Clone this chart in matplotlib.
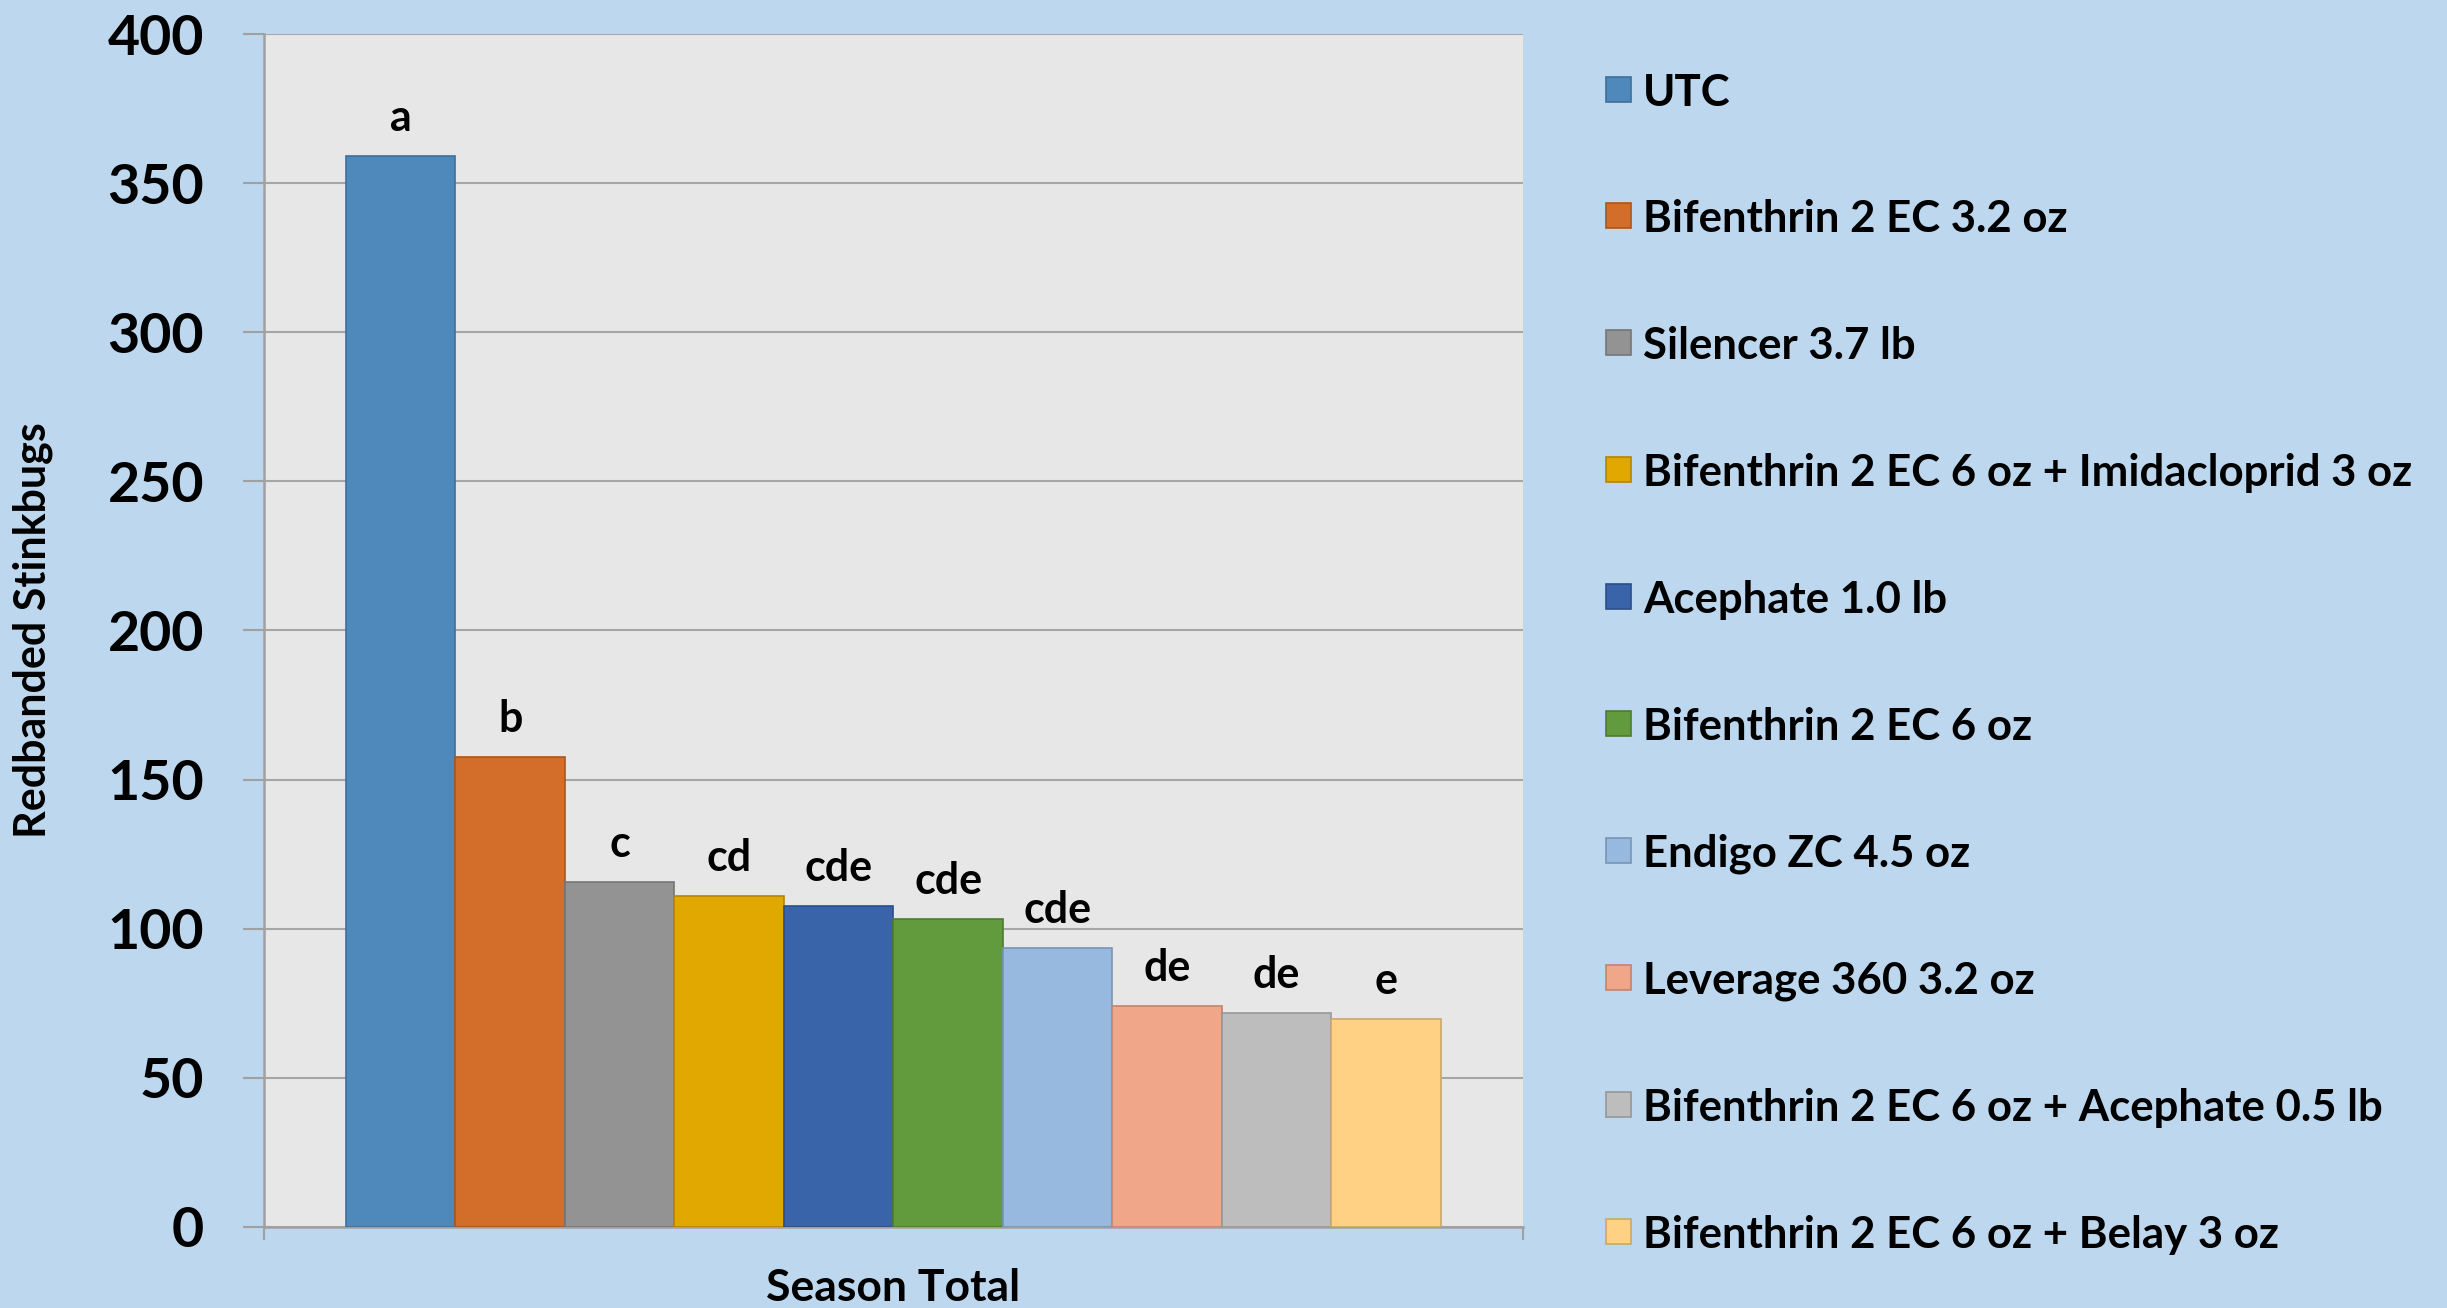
import matplotlib.pyplot as plt
from matplotlib.patches import Rectangle

# DONNEES
traitements = [
    "UTC",
    "Bifenthrin 2 EC 3.2 oz",
    "Silencer 3.7 lb",
    "Bifenthrin 2 EC 6 oz + Imidacloprid 3 oz",
    "Acephate 1.0 lb",
    "Bifenthrin 2 EC 6 oz",
    "Endigo ZC 4.5 oz",
    "Leverage 360 3.2 oz",
    "Bifenthrin 2 EC 6 oz + Acephate 0.5 lb",
    "Bifenthrin 2 EC 6 oz + Belay 3 oz",
]
stinkbugs = [359, 157.5, 115.5, 110.8, 107.5, 103.3, 93.5, 74, 71.7, 69.5]
lettres = ["a", "b", "c", "cd", "cde", "cde", "cde", "de", "de", "e"]
y_ticks = [0, 50, 100, 150, 200, 250, 300, 350, 400]

couleurs = ["#4F88BB", "#D26E2A", "#939393", "#E0A800", "#3A64AA",
            "#629A3E", "#98B9DF", "#F0A688", "#BDBDBD", "#FFD185"]
bords = ["#3F6F9A", "#A8561F", "#767676", "#B38600", "#2D4F88",
         "#4E7B31", "#7A94B2", "#C0856C", "#979797", "#CCA76A"]

plt.rcParams["font.family"] = ["Lato", "DejaVu Sans"]
plt.rcParams["font.weight"] = "bold"

fond = "#BDD7EE"
fig = plt.figure(figsize=(24.47, 13.08), dpi=100, facecolor=fond)
ax = fig.add_axes([0.1078, 0.0622, 0.5146, 0.9116])
ax.set_facecolor("#E7E7E7")

positions = list(range(len(stinkbugs)))
barres = ax.bar(positions, stinkbugs, width=1.0, color=couleurs,
                edgecolor=bords, linewidth=1.2, zorder=3)

for b, lettre in zip(barres, lettres):
    ax.annotate(lettre, (b.get_x() + b.get_width() / 2, b.get_height()),
                xytext=(0, 13), textcoords="offset points",
                ha="center", va="bottom", fontsize=31, fontweight="bold")

ax.set_ylim(0, 400)
ax.set_xlim(-1.25, 10.25)
ax.set_yticks(y_ticks)
ax.set_yticklabels([str(v) for v in y_ticks], fontsize=40, fontweight="bold")
ax.set_xticks([-1.25, 10.25])
ax.set_xticklabels(["", ""])
ax.tick_params(axis="y", length=15, width=1.5, color="#A0A0A0", pad=28)
ax.tick_params(axis="x", length=9, width=1.5, color="#A0A0A0")
ax.yaxis.grid(True, color="#A6A6A6", linewidth=1.5, zorder=0)
ax.set_axisbelow(True)

for s in ["top", "right"]:
    ax.spines[s].set_visible(False)
for s in ["left", "bottom"]:
    ax.spines[s].set_color("#A0A0A0")
    ax.spines[s].set_linewidth(1.8)

fig.text(0.0135, 0.5185, "Redbanded Stinkbugs", rotation=90, ha="center",
         va="center", fontsize=31, fontweight="bold")
fig.text(0.365, 0.0305, "Season Total", ha="center", va="top",
         fontsize=32, fontweight="bold")

# LEGENDE
W, H = 2447, 1308
y0 = 89
pas = 126.9
for i, (lab, c, e) in enumerate(zip(traitements, couleurs, bords)):
    yc = y0 + i * pas
    fig.patches.append(Rectangle((1606 / W, 1 - (yc + 12.5) / H), 25 / W, 25 / H,
                                 transform=fig.transFigure, facecolor=c,
                                 edgecolor=e, linewidth=1.2))
    fig.text(1643 / W, 1 - yc / H, lab, ha="left", va="center_baseline",
             fontsize=31.5, fontweight="bold")

fig.savefig("out.png", dpi=100, facecolor=fond)
